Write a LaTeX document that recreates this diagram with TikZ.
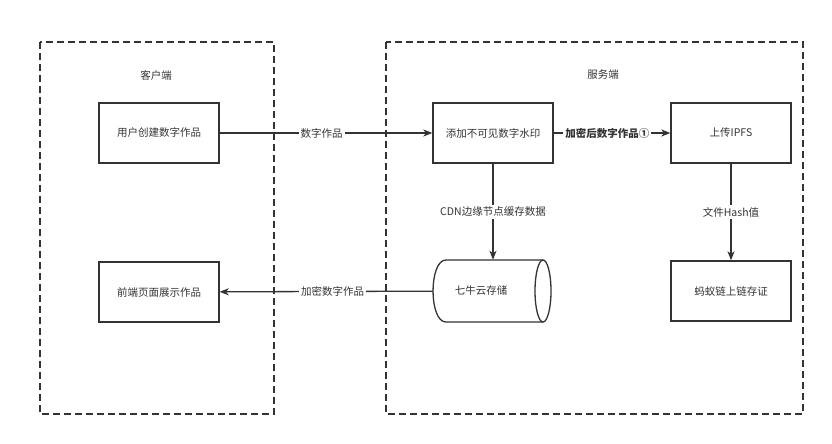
\documentclass[tikz,border=0pt]{standalone}
\usepackage{fontspec}
\setmainfont{Noto Sans CJK SC}
\usetikzlibrary{arrows.meta}
\definecolor{ln}{HTML}{333333}
\begin{document}
\begin{tikzpicture}[x=1pt,y=-1pt,
  font=\fontsize{10.5}{13}\selectfont,
  box/.style={draw=ln,line width=1.3pt,minimum width=120pt,minimum height=60pt,inner sep=0pt,text=ln},
  zone/.style={draw=ln,line width=1.3pt,dash pattern=on 7pt off 4pt},
  conn/.style={draw=ln,line width=1.3pt,-{Stealth[length=9pt,width=7pt,inset=2.5pt]}},
  lbl/.style={fill=white,text=ln,inner sep=2pt}]
\useasboundingbox (0,0) rectangle (832,444);
\draw[zone] (40,42) rectangle (274,414);
\draw[zone] (386,42) rectangle (803,414);
\node[text=ln] (tc) at (156,75) {客户端};
\node[text=ln] (ts) at (603,75) {服务端};
\node[box] (create) at (159,133) {用户创建数字作品};
\node[box] (mark) at (493,133) {添加不可见数字水印};
\node[box] (ipfs) at (731,133) {上传IPFS};
\node[box] (show) at (159,292) {前端页面展示作品};
\node[box] (chain) at (731,291) {蚂蚁链上链存证};
% cylinder body (drawn), with an invisible named node for anchors
\draw[ln,line width=1.3pt] (543,322) -- (446,322)
  .. controls (428.7,322) and (428.7,260) .. (446,260) -- (543,260);
\draw[ln,line width=1.3pt] (543,291) ellipse[x radius=8,y radius=31];
\node[minimum width=120pt,minimum height=62pt,inner sep=0pt,text=ln] (cdn) at (493,291) {\hspace*{-24pt}七牛云存储};
\draw[conn] (create) -- node[lbl,pos=0.48]{数字作品} (mark);
\draw[conn] (mark) -- node[lbl,pos=0.46]{\bfseries 加密后数字作品①} (ipfs);
\draw[conn] (mark) -- node[lbl]{CDN边缘节点缓存数据} (cdn);
\draw[conn] (ipfs) -- node[lbl]{文件Hash值} (chain);
\draw[conn] (cdn) -- node[lbl,pos=0.47]{加密数字作品} (show);
\end{tikzpicture}
\end{document}
